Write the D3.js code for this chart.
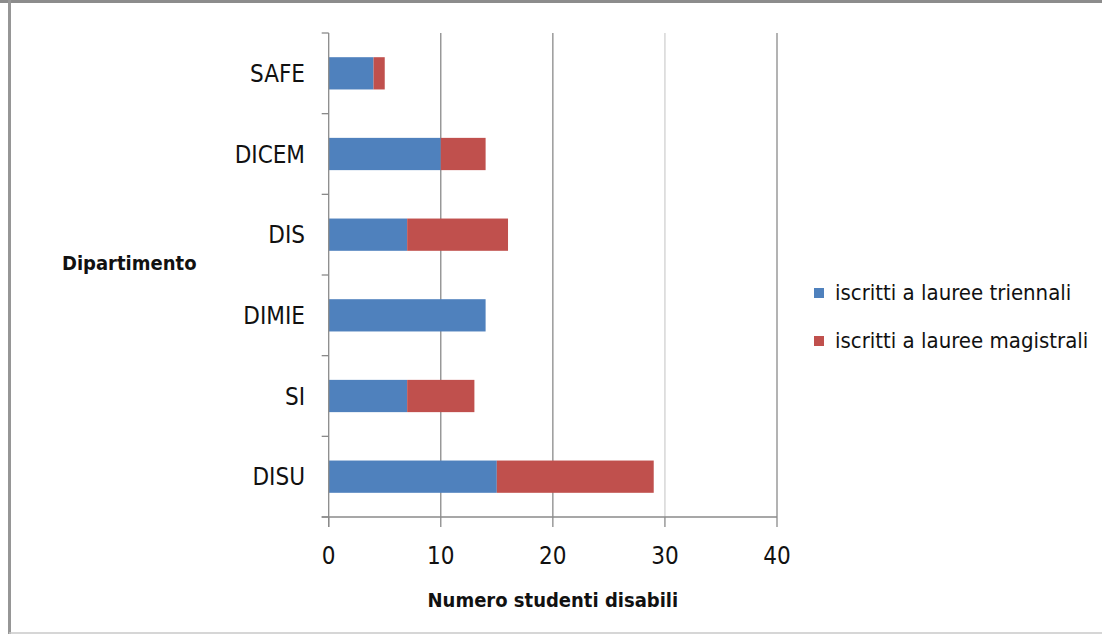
<!DOCTYPE html>
<html>
<head>
<meta charset="utf-8">
<script src="https://cdn.jsdelivr.net/npm/d3@7"></script>
<style>
  body { margin: 0; background: #fff; }
  svg text { font-family: "Liberation Sans Narrow", "DejaVu Sans Condensed", "Open Sans", sans-serif; fill: #111; }
</style>
</head>
<body>
<svg id="chart" width="1102" height="634"></svg>
<script>
const departments = ["SAFE", "DICEM", "DIS", "DIMIE", "SI", "DISU"];
const triennali = [4, 10, 7, 14, 7, 15];
const magistrali = [1, 4, 9, 0, 6, 14];
const seriesNames = ["iscritti a lauree triennali", "iscritti a lauree magistrali"];
const seriesColors = ["#4f81bd", "#c0504d"];
const xTicks = [0, 10, 20, 30, 40];

const svg = d3.select("#chart");

// frame
svg.append("line").attr("x1", 0).attr("x2", 1102).attr("y1", 1.5).attr("y2", 1.5)
  .attr("stroke", "#8c8c8c").attr("stroke-width", 3);
svg.append("line").attr("x1", 9.5).attr("x2", 9.5).attr("y1", 0).attr("y2", 634)
  .attr("stroke", "#969696").attr("stroke-width", 3);
svg.append("line").attr("x1", 9).attr("x2", 1102).attr("y1", 633).attr("y2", 633)
  .attr("stroke", "#c8c8c8").attr("stroke-width", 1.5);

const plot = {left: 328.7, right: 777, top: 33, bottom: 517};

const x = d3.scaleLinear().domain([0, 40]).range([plot.left, plot.right]);
const y = d3.scaleBand().domain(departments).range([plot.top, plot.bottom]).paddingInner(0.6).paddingOuter(0.3);
const yEdge = d3.scaleLinear().domain([0, departments.length]).range([plot.top, plot.bottom]);

// gridlines
svg.append("g").selectAll("line").data(xTicks.slice(1)).join("line")
  .attr("x1", d => x(d)).attr("x2", d => x(d))
  .attr("y1", plot.top).attr("y2", plot.bottom)
  .attr("stroke", d => d === 30 ? "#d0d0d0" : "#8a8a8a").attr("stroke-width", 1.3);

// stacked bars
const rows = departments.map((d, i) => ({dep: d, a: triennali[i], b: magistrali[i]}));
const stack = d3.stack().keys(["a", "b"])(rows);

svg.append("g").selectAll("g").data(stack).join("g")
  .attr("fill", (d, i) => seriesColors[i])
  .selectAll("rect").data(d => d).join("rect")
  .attr("x", d => x(d[0]))
  .attr("y", d => y(d.data.dep))
  .attr("width", d => x(d[1]) - x(d[0]))
  .attr("height", y.bandwidth());

// y axis
const yAxis = svg.append("g");
yAxis.append("line").attr("x1", plot.left).attr("x2", plot.left)
  .attr("y1", plot.top).attr("y2", plot.bottom + 10)
  .attr("stroke", "#8a8a8a").attr("stroke-width", 1.3);
yAxis.selectAll(".tk").data(d3.range(departments.length + 1)).join("line")
  .attr("x1", plot.left - 7).attr("x2", plot.left)
  .attr("y1", d => yEdge(d)).attr("y2", d => yEdge(d))
  .attr("stroke", "#8a8a8a").attr("stroke-width", 1.3);
yAxis.selectAll("text").data(departments).join("text")
  .attr("x", 305).attr("y", d => y(d) + y.bandwidth() / 2)
  .attr("dy", "0.36em").attr("text-anchor", "end")
  .attr("font-size", 24).text(d => d);

// x axis
const xAxis = svg.append("g");
xAxis.append("line").attr("x1", plot.left - 7).attr("x2", plot.right)
  .attr("y1", plot.bottom).attr("y2", plot.bottom)
  .attr("stroke", "#8a8a8a").attr("stroke-width", 1.3);
xAxis.selectAll("line.tk").data(xTicks).join("line")
  .attr("class", "tk")
  .attr("x1", d => x(d)).attr("x2", d => x(d))
  .attr("y1", plot.bottom).attr("y2", plot.bottom + 10)
  .attr("stroke", "#8a8a8a").attr("stroke-width", 1.3);
xAxis.selectAll("text").data(xTicks).join("text")
  .attr("x", d => x(d)).attr("y", 564)
  .attr("text-anchor", "middle").attr("font-size", 24).text(d => d);

// axis titles
svg.append("text").attr("x", (plot.left + plot.right) / 2).attr("y", 607)
  .attr("text-anchor", "middle").attr("font-size", 20).attr("font-weight", "bold")
  .text("Numero studenti disabili");
svg.append("text").attr("x", 62).attr("y", 270)
  .attr("font-size", 20).attr("font-weight", "bold")
  .text("Dipartimento");

// legend
const legend = svg.append("g").selectAll("g").data(seriesNames).join("g")
  .attr("transform", (d, i) => `translate(814,${293 + i * 48})`);
legend.append("rect").attr("x", 0).attr("y", -5).attr("width", 10).attr("height", 10)
  .attr("fill", (d, i) => seriesColors[i]);
legend.append("text").attr("x", 21).attr("y", 0).attr("dy", "0.32em")
  .attr("font-size", 22).text(d => d);
</script>
</body>
</html>
